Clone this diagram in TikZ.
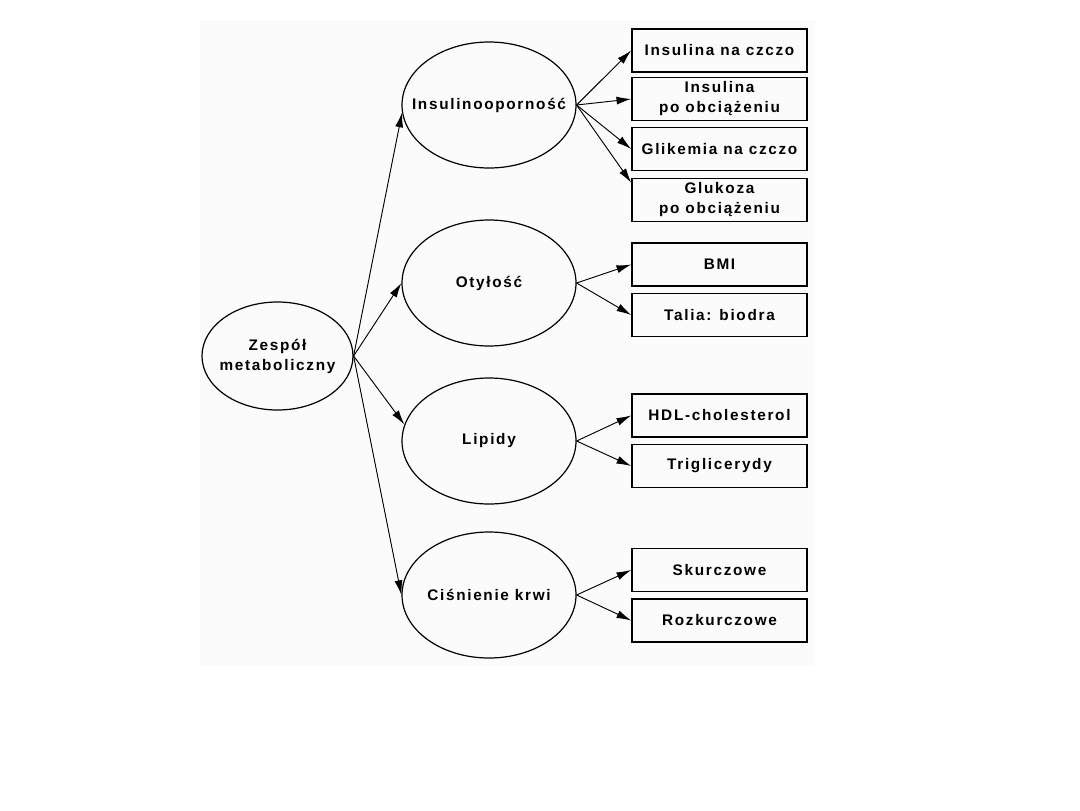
\documentclass[tikz,border=0pt]{standalone}
\usepackage{fontspec}
\setmainfont{Liberation Sans}[LetterSpace=11]
\usetikzlibrary{arrows.meta,shapes.geometric,calc}
\begin{document}
\begin{tikzpicture}[x=0.75pt,y=-0.75pt,
  lbl/.style={font=\fontsize{11.5}{15}\selectfont\bfseries,align=center,text=black},
  ell/.style={ellipse,draw,line width=0.9pt,minimum width=130.5pt,minimum height=94.5pt,inner sep=0pt},
  box/.style={rectangle,draw,line width=1.2pt,minimum width=131.25pt,minimum height=32.25pt,inner sep=0pt,lbl},
  arr/.style={-{Latex[length=11pt,width=6pt]},line width=0.7pt}]
\useasboundingbox (0,0) rectangle (1080,810);
\fill[black!1.5] (200,20) rectangle (815,665);

\node[ell,minimum width=113.25pt,minimum height=81pt,label={[lbl]center:Zespół\\metaboliczny}] (zm) at (277.5,356) {};
\node[ell,label={[lbl]center:Insulinooporność}] (ins) at (489,105) {};
\node[ell,label={[lbl]center:Otyłość}] (oty) at (489,283) {};
\node[ell,label={[lbl]center:Lipidy}] (lip) at (489,441) {};
\node[ell,label={[lbl]center:Ciśnienie krwi}] (cis) at (489,595) {};

\node[box] (b1) at (719.5,50.5) {Insulina na czczo};
\node[box] (b2) at (719.5,99) {Insulina\\po obciążeniu};
\node[box] (b3) at (719.5,149) {Glikemia na czczo};
\node[box] (b4) at (719.5,200) {Glukoza\\po obciążeniu};
\node[box] (b5) at (719.5,264.5) {BMI};
\node[box] (b6) at (719.5,315) {Talia: biodra};
\node[box] (b7) at (719.5,415.5) {HDL-cholesterol};
\node[box] (b8) at (719.5,466) {Triglicerydy};
\node[box] (b9) at (719.5,570) {Skurczowe};
\node[box] (b10) at (719.5,620.5) {Rozkurczowe};

\coordinate (b4in) at ($(b4.north west)+(0,5)$);

\draw[arr] (zm.east) -- (ins.185);
\draw[arr] (zm.east) -- (oty.west);
\draw[arr] (zm.east) -- (lip.169);
\draw[arr] (zm.east) -- (cis.west);

\draw[arr] (ins.east) -- (b1.west);
\draw[arr] (ins.east) -- (b2.west);
\draw[arr] (ins.east) -- (b3.west);
\draw[arr] (ins.east) -- (b4in);

\draw[arr] (oty.east) -- (b5.west);
\draw[arr] (oty.east) -- (b6.west);
\draw[arr] (lip.east) -- (b7.west);
\draw[arr] (lip.east) -- (b8.west);
\draw[arr] (cis.east) -- (b9.west);
\draw[arr] (cis.east) -- (b10.west);
\end{tikzpicture}
\end{document}
